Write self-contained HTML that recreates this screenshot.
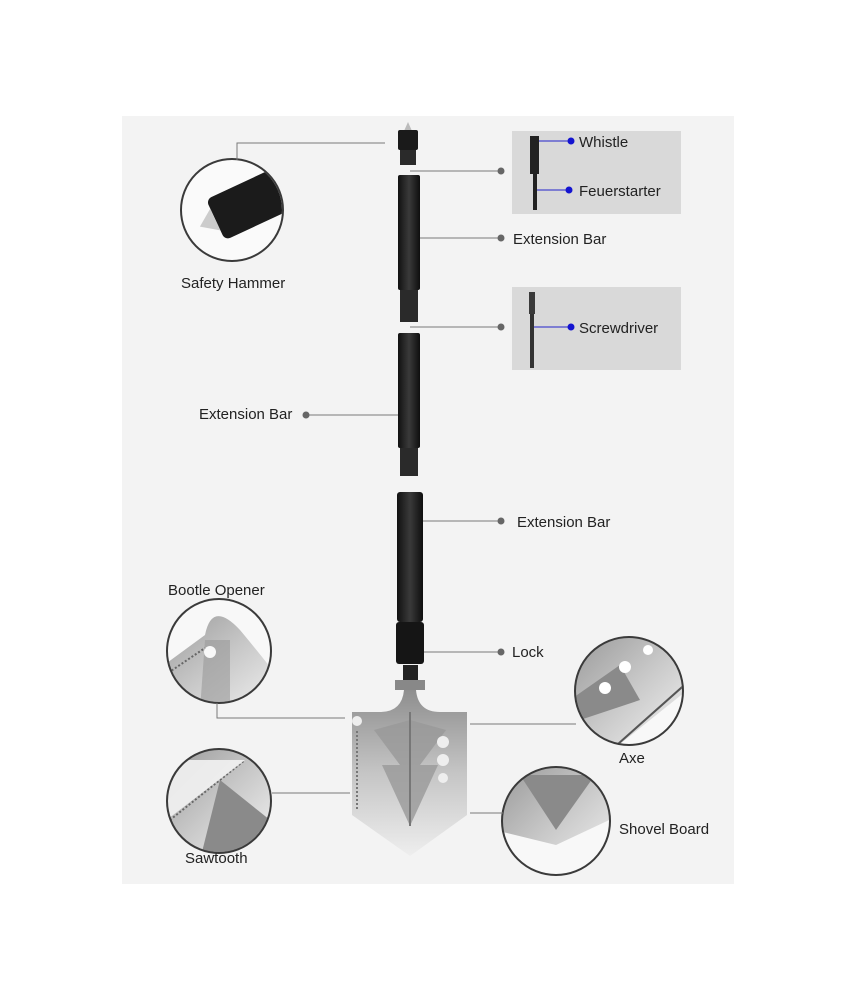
<!DOCTYPE html>
<html><head><meta charset="utf-8"><style>
html,body{margin:0;padding:0;background:#fff;}
svg{display:block;font-family:"Liberation Sans",sans-serif;}
</style></head><body>
<svg width="856" height="1000" viewBox="0 0 856 1000">
<defs>
<linearGradient id="steel" x1="0" y1="0" x2="1" y2="1">
<stop offset="0" stop-color="#9a9a9a"/><stop offset="0.5" stop-color="#c8c8c8"/><stop offset="1" stop-color="#f2f2f2"/></linearGradient>
<linearGradient id="blade" x1="0" y1="0" x2="0" y2="1">
<stop offset="0" stop-color="#8e8e8e"/><stop offset="0.5" stop-color="#c5c5c5"/><stop offset="1" stop-color="#eeeeee"/></linearGradient>
<linearGradient id="bar" x1="0" y1="0" x2="1" y2="0">
<stop offset="0" stop-color="#111"/><stop offset="0.5" stop-color="#3a3a3a"/><stop offset="1" stop-color="#0e0e0e"/></linearGradient>
<clipPath id="c1"><circle cx="219" cy="651" r="51"/></clipPath>
<clipPath id="c2"><circle cx="219" cy="801" r="51"/></clipPath>
<clipPath id="c3"><circle cx="629" cy="691" r="53"/></clipPath>
<clipPath id="c4"><circle cx="556" cy="821" r="53"/></clipPath>
<clipPath id="c0"><circle cx="232" cy="210" r="50"/></clipPath>
</defs>
<rect x="122" y="116" width="612" height="768" fill="#f3f3f3"/>
<rect x="512" y="131" width="169" height="83" fill="#d9d9d9"/>
<rect x="512" y="287" width="169" height="83" fill="#d9d9d9"/>
<rect x="530" y="136" width="9" height="38" fill="#222"/>
<rect x="533" y="172" width="4" height="38" fill="#222"/>
<rect x="530" y="313" width="4" height="55" fill="#333"/>
<rect x="529" y="292" width="6" height="22" fill="#3a3a3a"/>
<g stroke="#2222cc" stroke-width="1"><line x1="539" y1="141" x2="571" y2="141"/><line x1="537" y1="190" x2="569" y2="190"/><line x1="534" y1="327" x2="571" y2="327"/></g>
<g fill="#1414d0"><circle cx="571" cy="141" r="3.5"/><circle cx="569" cy="190" r="3.5"/><circle cx="571" cy="327" r="3.5"/></g>
<polygon points="404,131 408,122 412,131" fill="#bbb"/>
<rect x="398" y="130" width="20" height="20" rx="2" fill="#1a1a1a"/>
<rect x="400" y="150" width="16" height="15" fill="#2a2a2a"/>
<rect x="398" y="175" width="22" height="115" rx="2" fill="url(#bar)"/>
<rect x="400" y="290" width="18" height="32" fill="#2a2a2a"/>
<rect x="398" y="333" width="22" height="115" rx="2" fill="url(#bar)"/>
<rect x="400" y="448" width="18" height="28" fill="#2a2a2a"/>
<rect x="397" y="492" width="26" height="130" rx="3" fill="url(#bar)"/>
<rect x="396" y="622" width="28" height="42" rx="3" fill="#151515"/>
<rect x="403" y="665" width="15" height="25" fill="#222"/>
<rect x="395" y="680" width="30" height="10" fill="#888"/>
<path d="M404,690 L416,690 Q418,712 440,712 L467,712 L467,815 L410,856 L352,815 L352,712 L380,712 Q402,712 404,690 Z" fill="url(#blade)"/>
<path d="M374,730 L400,765 L382,765 L410,826 L438,765 L420,765 L446,730 L410,720 Z" fill="#999" opacity="0.8"/>
<line x1="410" y1="712" x2="410" y2="826" stroke="#777" stroke-width="2"/>
<g fill="#eee"><circle cx="443" cy="742" r="6"/><circle cx="443" cy="760" r="6"/><circle cx="443" cy="778" r="5"/><circle cx="357" cy="721" r="5"/></g>
<line x1="357" y1="731" x2="357" y2="810" stroke="#777" stroke-width="2" stroke-dasharray="2 2"/>
<!-- circle contents -->
<circle cx="232" cy="210" r="51" fill="#fafafa"/>
<g clip-path="url(#c0)"><g transform="rotate(-25 232 215)"><rect x="215" y="190" width="80" height="45" rx="6" fill="#1b1b1b"/><polygon points="215,200 198,212 215,224" fill="#ccc"/></g></g>
<circle cx="219" cy="651" r="52" fill="#f8f8f8"/>
<g clip-path="url(#c1)"><path d="M160,700 L160,668 L205,635 Q212,600 240,630 Q265,660 280,680 L280,710 Z" fill="url(#steel)"/><path d="M205,640 L230,640 L230,710 L200,710 Z" fill="#999" opacity="0.6"/><circle cx="210" cy="652" r="6" fill="#f8f8f8"/><line x1="165" y1="675" x2="205" y2="648" stroke="#666" stroke-width="2" stroke-dasharray="2 2"/></g>
<circle cx="219" cy="801" r="52" fill="url(#steel)"/>
<g clip-path="url(#c2)"><polygon points="220,780 270,820 235,860 200,860" fill="#8a8a8a"/><line x1="170" y1="820" x2="245" y2="760" stroke="#666" stroke-width="2" stroke-dasharray="2 2"/><polygon points="160,760 245,760 160,825" fill="#f2f2f2" opacity="0.9"/></g>
<circle cx="629" cy="691" r="54" fill="url(#steel)"/>
<g clip-path="url(#c3)"><polygon points="570,700 620,665 640,700 580,720" fill="#8a8a8a"/><polygon points="600,760 700,680 700,760" fill="#f8f8f8"/><line x1="600" y1="760" x2="690" y2="680" stroke="#555" stroke-width="2"/><circle cx="605" cy="688" r="6" fill="#fff"/><circle cx="625" cy="667" r="6" fill="#fff"/><circle cx="648" cy="650" r="5" fill="#fff"/></g>
<circle cx="556" cy="821" r="54" fill="url(#steel)"/>
<g clip-path="url(#c4)"><polygon points="520,775 595,775 556,830" fill="#8a8a8a"/><polygon points="495,830 556,845 620,815 620,880 495,880" fill="#f8f8f8"/></g>
<g stroke="#3a3a3a" stroke-width="2" fill="none">
<circle cx="232" cy="210" r="51"/><circle cx="219" cy="651" r="52"/><circle cx="219" cy="801" r="52"/><circle cx="629" cy="691" r="54"/><circle cx="556" cy="821" r="54"/>
</g>
<g stroke="#7a7a7a" stroke-width="1" fill="none">
<polyline points="237,160 237,143 385,143"/>
<line x1="410" y1="171" x2="500" y2="171"/>
<line x1="420" y1="238" x2="500" y2="238"/>
<line x1="410" y1="327" x2="500" y2="327"/>
<line x1="308" y1="415" x2="398" y2="415"/>
<line x1="423" y1="521" x2="500" y2="521"/>
<line x1="424" y1="652" x2="500" y2="652"/>
<polyline points="217,703 217,718 345,718"/>
<line x1="470" y1="724" x2="576" y2="724"/>
<line x1="272" y1="793" x2="350" y2="793"/>
<line x1="470" y1="813" x2="503" y2="813"/>
</g>
<g fill="#666"><circle cx="501" cy="171" r="3.5"/><circle cx="501" cy="238" r="3.5"/><circle cx="501" cy="327" r="3.5"/><circle cx="306" cy="415" r="3.5"/><circle cx="501" cy="521" r="3.5"/><circle cx="501" cy="652" r="3.5"/></g>
<g font-size="15" fill="#222">
<text x="181" y="288">Safety Hammer</text>
<text x="579" y="147">Whistle</text>
<text x="579" y="196">Feuerstarter</text>
<text x="513" y="244">Extension Bar</text>
<text x="579" y="333">Screwdriver</text>
<text x="199" y="419">Extension Bar</text>
<text x="517" y="527">Extension Bar</text>
<text x="512" y="657">Lock</text>
<text x="168" y="595">Bootle Opener</text>
<text x="619" y="763">Axe</text>
<text x="619" y="834">Shovel Board</text>
<text x="185" y="863">Sawtooth</text>
</g>
</svg>
</body></html>
